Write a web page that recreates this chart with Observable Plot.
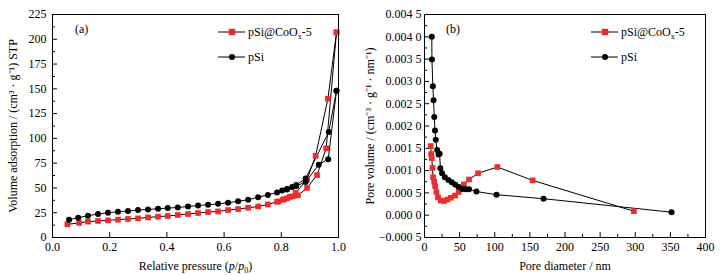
<!DOCTYPE html>
<html><head><meta charset="utf-8">
<script src="https://cdn.jsdelivr.net/npm/d3@7"></script>
<script src="https://cdn.jsdelivr.net/npm/@observablehq/plot@0.6"></script>
<style>
body{margin:0;background:#fff;}
#wrap{display:flex;width:724px;height:275px;overflow:hidden;}
#wrap svg, #wrap svg text{font-family:"Liberation Serif","Times New Roman",serif !important;}
</style></head><body><div id="wrap"></div>
<script>
// ---- Panel (a): N2 isotherms ----
const redAdsP = [0.052,0.093,0.124,0.159,0.194,0.229,0.264,0.299,0.334,0.369,0.403,0.438,0.474,0.509,0.544,0.579,0.614,0.649,0.684,0.719,0.753,0.785,0.806,0.82,0.84,0.858,0.89,0.925,0.957,0.993];
const redAdsV = [13.3,14.7,16,16.7,17.3,18,18.7,19.3,20.3,21,21.7,22.7,23.7,24.7,25.7,26.3,27.7,28.7,30,31.3,33.3,36,38,39.5,41.5,42.5,50,63,90,207];
const redDesP = [0.993,0.963,0.92,0.89,0.85,0.83,0.81,0.79];
const redDesV = [207,140,82.5,58.5,45,41,38.7,36.5];
const blackAdsP = [0.058,0.09,0.124,0.159,0.194,0.229,0.264,0.299,0.334,0.369,0.403,0.438,0.474,0.509,0.544,0.579,0.614,0.649,0.684,0.719,0.753,0.785,0.803,0.82,0.838,0.852,0.885,0.931,0.964,0.993];
const blackAdsV = [18,20,22,23.7,25,26,26.7,27.7,28.3,29,29.7,30.3,31.3,32.3,33,34,35,36.7,38,40.7,43,45.5,47.3,48.5,51,52,56,73.5,79,148];
const blackDesP = [0.993,0.966,0.885,0.852,0.82];
const blackDesV = [148,106.5,59.5,53,49];
const xTicksA = [0,0.2,0.4,0.6,0.8,1.0];
const yTicksA = [0,25,50,75,100,125,150,175,200,225];
const yMinorA = [12.5,37.5,62.5,87.5,112.5,137.5,162.5,187.5,212.5];

// ---- Panel (b): pore size distribution ----
const poreRedD = [8.9,9.5,10.4,11.3,12.2,13.7,15.1,17,19.3,23.2,27.8,32.6,37.4,43.5,48.7,56,63.4,76.2,103.7,154,298];
const poreRedV = [0.00155,0.00137,0.00128,0.00106,0.00085,0.00075,0.00065,0.00052,0.0004,0.00033,0.00032,0.00035,0.00039,0.00044,0.00052,0.00069,0.0008,0.00094,0.00108,0.00078,0.00009];
const poreBlackD = [10.4,10.6,11.9,12.9,13.9,14.9,16,18,20,21.5,22.6,25,29,34,38.8,43.5,48.2,54,58.7,63.4,73.9,102.5,169.5,351.7];
const poreBlackV = [0.004,0.00349,0.00289,0.00258,0.0022,0.0019,0.00169,0.00146,0.00136,0.00138,0.00105,0.00094,0.00085,0.00079,0.00074,0.00069,0.00064,0.00059,0.00058,0.00058,0.00053,0.00046,0.00037,0.000067];
const xTicksB = [0,50,100,150,200,250,300,350,400];
const xMinorB = [25,75,125,175,225,275,325,375];
const yTicksB = [-0.0005,0,0.0005,0.001,0.0015,0.002,0.0025,0.003,0.0035,0.004,0.0045];
const yMinorB = [-0.00025,0.00025,0.00075,0.00125,0.00175,0.00225,0.00275,0.00325,0.00375,0.00425];

const seriesNames = ["pSi@CoOx-5","pSi"];
const RED = "#ee2c2c";
const FONT = '"Liberation Serif","Times New Roman",serif';

const zip = (a,b) => a.map((v,i) => ({x:v, y:b[i]}));
const redAds = zip(redAdsP, redAdsV), redDes = zip(redDesP, redDesV);
const blkAds = zip(blackAdsP, blackAdsV), blkDes = zip(blackDesP, blackDesV);
const poreRed = zip(poreRedD, poreRedV), poreBlk = zip(poreBlackD, poreBlackV);

function fmtB(d){
  if (Math.abs(d) < 1e-12) d = 0;
  let s = d3.format(".4f")(Math.abs(d));
  s = s.slice(0,5) + " " + s.slice(5);
  return (d < 0 ? "\u2212" : "") + s;
}

const style = {fontFamily: FONT, fontSize: "12px", color: "#000", background: "#fff", overflow: "visible"};

const plotA = Plot.plot({
  width: 362, height: 275, marginLeft: 52, marginRight: 24, marginTop: 14, marginBottom: 38,
  style,
  x: {domain: [0,1]},
  y: {domain: [0,225]},
  marks: [
    Plot.line(redAds, {x:"x", y:"y", stroke:"#000", strokeWidth:1}),
    Plot.line(redDes, {x:"x", y:"y", stroke:"#000", strokeWidth:1}),
    Plot.line(blkAds, {x:"x", y:"y", stroke:"#000", strokeWidth:1}),
    Plot.line(blkDes, {x:"x", y:"y", stroke:"#000", strokeWidth:1}),
    Plot.dot(redAds.concat(redDes), {x:"x", y:"y", symbol:"square", fill:RED, r:3.2}),
    Plot.dot(blkAds.concat(blkDes), {x:"x", y:"y", symbol:"circle", fill:"#000", r:3}),
    Plot.frame({stroke:"#000", strokeWidth:1}),
    Plot.axisX(xTicksA, {tickSize:-5, tickPadding:10, tickFormat: d3.format(".1f"), label:"Relative pressure (p/p0)", labelAnchor:"center", labelOffset:32, labelArrow:"none"}),
    Plot.axisY(yTicksA, {tickSize:-5, tickPadding:11, label:"Volume adsorption / (cm³ · g⁻¹) STP", labelAnchor:"center", labelOffset:44, labelArrow:"none"}),
    Plot.axisY(yMinorA, {tickSize:-3, tickFormat: () => "", label:null})
  ]
});

const plotB = Plot.plot({
  width: 362, height: 275, marginLeft: 62, marginRight: 19, marginTop: 14, marginBottom: 38,
  style,
  x: {domain: [0,400]},
  y: {domain: [-0.0005,0.0045]},
  marks: [
    Plot.line(poreRed, {x:"x", y:"y", stroke:"#000", strokeWidth:1}),
    Plot.line(poreBlk, {x:"x", y:"y", stroke:"#000", strokeWidth:1}),
    Plot.dot(poreRed, {x:"x", y:"y", symbol:"square", fill:RED, r:3.2}),
    Plot.dot(poreBlk, {x:"x", y:"y", symbol:"circle", fill:"#000", r:3}),
    Plot.frame({stroke:"#000", strokeWidth:1}),
    Plot.axisX(xTicksB, {tickSize:-5, tickPadding:10, label:"Pore diameter / nm", labelAnchor:"center", labelOffset:32, labelArrow:"none"}),
    Plot.axisX(xMinorB, {tickSize:-3, tickFormat: () => "", label:null}),
    Plot.axisY(yTicksB, {tickSize:-5, tickPadding:8, tickFormat: fmtB, label:"Pore volume / (cm⁻³ · g⁻¹ · nm⁻¹)", labelAnchor:"center", labelOffset:59, labelArrow:"none"}),
    Plot.axisY(yMinorB, {tickSize:-3, tickFormat: () => "", label:null})
  ]
});

const wrap = document.getElementById("wrap");
wrap.append(plotA, plotB);

// italic p in the x label of panel (a)
d3.select(plotA).selectAll("text").each(function(){
  const t = d3.select(this);
  if (t.text() === "Relative pressure (p/p0)") {
    t.text(null);
    t.append("tspan").text("Relative pressure (");
    t.append("tspan").attr("font-style","italic").text("p");
    t.append("tspan").text("/");
    t.append("tspan").attr("font-style","italic").text("p");
    t.append("tspan").attr("font-size","8px").attr("dy","3").text("0");
    t.append("tspan").attr("dy","-3").text(")");
  }
});

function addLegend(svgNode, x0, tag) {
  const svg = d3.select(svgNode);
  const g = svg.append("g").attr("font-size", "12px").attr("text-anchor", "start");
  const rows = [{y:32, name:seriesNames[0], red:true}, {y:57, name:seriesNames[1], red:false}];
  rows.forEach(r => {
    g.append("line").attr("x1", x0).attr("x2", x0+27).attr("y1", r.y).attr("y2", r.y).attr("stroke","#000");
    if (r.red) g.append("rect").attr("x", x0+14-3.2).attr("y", r.y-3.2).attr("width",6.4).attr("height",6.4).attr("fill",RED);
    else g.append("circle").attr("cx", x0+14).attr("cy", r.y).attr("r",3).attr("fill","#000");
    const t = g.append("text").attr("x", x0+30).attr("y", r.y+4);
    if (r.red) {
      t.append("tspan").text("pSi@CoO");
      t.append("tspan").attr("font-size","8px").attr("dy","3").text("x");
      t.append("tspan").attr("dy","-3").text("-5");
    } else t.text(r.name);
  });
  g.append("text").attr("x", tag.x).attr("y", 33).text(tag.t);
}
addLegend(plotA, 218, {x:75, t:"(a)"});
addLegend(plotB, 229, {x:84, t:"(b)"});
</script></body></html>
